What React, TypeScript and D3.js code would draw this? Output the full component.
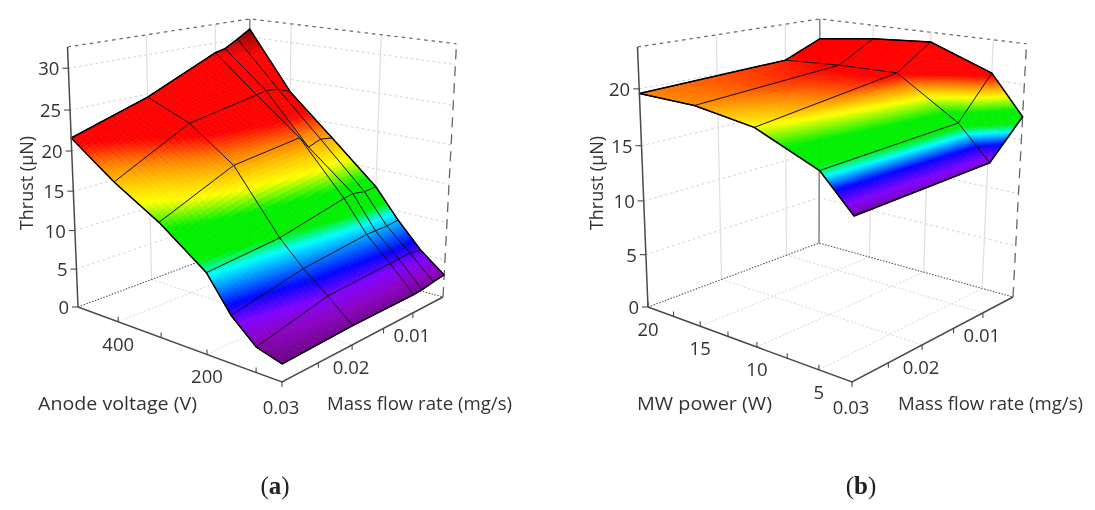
import React from "react";
import * as d3 from "d3";

// panel (a): thrust vs anode voltage and mass flow rate
const massFlowA = [0.03, 0.02, 0.01, 0.0085, 0.0065, 0.0045];
const voltageA = [500, 400, 300, 200, 150, 100, 50];
const thrustA = [
  [21.6, 17.5, 14.1, 9.8, 5.7, 3.0, 2.1],
  [24.6, 22.3, 18.2, 10.6, 7.6, 5.1, 2.4],
  [28.7, 23.9, 19.3, 12.6, 8.6, 5.6, 2.4],
  [29.0, 24.2, 17.7, 12.8, 8.6, 5.7, 2.5],
  [30.0, 24.0, 18.3, 12.5, 8.6, 5.8, 2.8],
  [31.1, 23.3, 18.0, 12.6, 8.8, 5.5, 3.0],
];
// panel (b): thrust vs MW power and mass flow rate
const massFlowB = [0.03, 0.01, 0.0045];
const powerB = [20, 15, 10, 5, 2.5];
const thrustB = [
  [19.6, 19.5, 18.7, 16.4, 13.5],
  [20.1, 20.4, 20.5, 16.9, 13.9],
  [21.6, 22.3, 22.7, 20.6, 17.1],
];

const massTicks = [0.03, 0.02, 0.01];
const massMinor = [0.025, 0.015];
const voltageTicks = [400, 200];
const voltageMinor = [300, 100];
const powerTicks = [20, 15, 10, 5];
const powerMinor = [17.5, 12.5, 7.5];
const thrustTicksA = [0, 5, 10, 15, 20, 25, 30];
const thrustTicksB = [0, 5, 10, 15, 20];

const colorStopsA: [number, string][] = [
  [2, "#6a0080"], [3.5, "#8a00c0"], [5, "#7f00ff"], [6.5, "#0000ff"], [8, "#0080ff"], [9.5, "#00ffff"],
  [10.8, "#00f000"], [13.5, "#00f000"], [15.7, "#ffff00"], [17.5, "#ffc000"], [19, "#ff8000"],
  [21, "#ff0000"], [28, "#ff0000"], [31.5, "#700000"],
];
const colorStopsB: [number, string][] = [
  [13.4, "#7000a0"], [14.2, "#8000ff"], [15.1, "#0000ff"], [16, "#00ffff"], [16.6, "#00f000"],
  [17.6, "#00f000"], [18.7, "#ffff00"], [19.6, "#ff8000"], [20.3, "#ff0000"],
];

// box corners on screen, panel (a) x; panel (b) is the same box moved right
const cornerL = [78, 307], cornerB = [249, 243], cornerR = [443, 297], cornerF = [282, 382];
const vanish = [235, 4200];
const topLeftY = 47;

const FONT = "'Open Sans', sans-serif";
const INK = "#333";

function homography(p00: number[], p10: number[], p11: number[], p01: number[]) {
  const dx1 = p10[0] - p11[0], dx2 = p01[0] - p11[0], sx = p00[0] - p10[0] + p11[0] - p01[0];
  const dy1 = p10[1] - p11[1], dy2 = p01[1] - p11[1], sy = p00[1] - p10[1] + p11[1] - p01[1];
  const den = dx1 * dy2 - dx2 * dy1;
  const g = (sx * dy2 - dx2 * sy) / den, h = (dx1 * sy - sx * dy1) / den;
  return {
    a: p10[0] - p00[0] + g * p10[0], b: p01[0] - p00[0] + h * p01[0], c: p00[0],
    d: p10[1] - p00[1] + g * p10[1], e: p01[1] - p00[1] + h * p01[1], f: p00[1], g, h,
  };
}
const H = homography(cornerL, cornerB, cornerR, cornerF);
const alpha = (topLeftY - cornerL[1]) / (vanish[1] - topLeftY);

// s, t, z all 0..1 inside the box
function project(s: number, t: number, z: number): [number, number] {
  const k = z * alpha;
  const w = H.g * s + H.h * t + 1 + k;
  return [
    (H.a * s + H.b * t + H.c + k * vanish[0]) / w,
    (H.d * s + H.e * t + H.f + k * vanish[1]) / w,
  ];
}

const line = d3.line<[number, number]>().x((d) => d[0]).y((d) => d[1]);
const seg = (a: [number, number], b: [number, number]) => line([a, b]) as string;

type PanelProps = {
  dx: number;
  massFlow: number[];
  xValues: number[];
  thrust: number[][];
  xDomain: [number, number];
  zMax: number;
  xTicks: number[];
  xMinor: number[];
  xGrid: number[];
  zTicks: number[];
  stops: [number, string][];
  steps: number;
  xTitle: string;
  xTitleX: number;
  xTitleLen: number;
  massTitleX: number;
  caption: string;
};

function Panel(p: PanelProps) {
  const sScale = d3.scaleLinear().domain([0.03, 0.0045]).range([0, 1]);
  const tScale = d3.scaleLinear().domain(p.xDomain).range([0, 1]);
  const zScale = d3.scaleLinear().domain([0, p.zMax]).range([0, 1]);
  const color = d3.scaleLinear<string>()
    .domain(p.stops.map((d) => d[0]))
    .range(p.stops.map((d) => d[1]))
    .interpolate(d3.interpolateRgb)
    .clamp(true);

  const node = (r: number, c: number): [number, number] =>
    project(sScale(p.massFlow[r]), tScale(p.xValues[c]), zScale(p.thrust[r][c]));

  // surface: every patch cut into small cells, far patches first
  const cells: { d: string; fill: string }[] = [];
  for (let r = p.massFlow.length - 2; r >= 0; r--) {
    for (let c = 0; c < p.xValues.length - 1; c++) {
      const at = (i: number, j: number) => {
        const a = i / p.steps, b = j / p.steps;
        const s = sScale(p.massFlow[r + 1]) * (1 - a) + sScale(p.massFlow[r]) * a;
        const t = tScale(p.xValues[c]) * (1 - b) + tScale(p.xValues[c + 1]) * b;
        const v = (p.thrust[r + 1][c] * (1 - b) + p.thrust[r + 1][c + 1] * b) * (1 - a)
          + (p.thrust[r][c] * (1 - b) + p.thrust[r][c + 1] * b) * a;
        return { xy: project(s, t, zScale(v)), v };
      };
      for (let i = 0; i < p.steps; i++) {
        for (let j = 0; j < p.steps; j++) {
          const q = [at(i, j), at(i, j + 1), at(i + 1, j + 1), at(i + 1, j)];
          cells.push({
            d: (line(q.map((e) => e.xy)) as string) + "Z",
            fill: color(d3.mean(q, (e) => e.v) as number),
          });
        }
      }
    }
  }

  const rows = p.massFlow.map((_, r) => p.xValues.map((_, c) => node(r, c)));
  const cols = p.xValues.map((_, c) => p.massFlow.map((_, r) => node(r, c)));
  const lastR = p.massFlow.length - 1, lastC = p.xValues.length - 1;
  const outline = [...rows[0], ...cols[lastC].slice(1), ...[...rows[lastR]].reverse().slice(1), ...[...cols[0]].reverse().slice(1)];

  const gridMass = massTicks.slice(1);
  const tickLen = 5;

  return (
    <g transform={`translate(${p.dx},0)`}>
      {/* walls */}
      <g fill="none">
        {p.zTicks.slice(1).map((z) => (
          <path key={z} stroke="#cfcfcf" strokeDasharray="2.5 3"
            d={line([project(0, 0, zScale(z)), project(1, 0, zScale(z)), project(1, 1, zScale(z))]) as string} />
        ))}
        {gridMass.map((m) => (
          <path key={m} d={seg(project(sScale(m), 0, 0), project(sScale(m), 0, 1))} stroke="#e0e0e0" strokeWidth={1.2} />
        ))}
        {p.xGrid.map((x) => (
          <path key={x} d={seg(project(1, tScale(x), 0), project(1, tScale(x), 1))} stroke="#e0e0e0" strokeWidth={1.2} />
        ))}
        {/* floor */}
        {gridMass.map((m) => (
          <path key={m} d={seg(project(sScale(m), 0, 0), project(sScale(m), 1, 0))} stroke="#d8d8d8" strokeDasharray="2 2" />
        ))}
        {p.xGrid.map((x) => (
          <path key={x} d={seg(project(0, tScale(x), 0), project(1, tScale(x), 0))} stroke="#d8d8d8" strokeDasharray="2 2" />
        ))}
        {/* box */}
        <path d={line([project(0, 0, 0), project(1, 0, 0), project(1, 1, 0)]) as string} stroke="#555" strokeDasharray="1.5 1.5" strokeWidth={1.1} />
        <path d={line([project(0, 0, 1), project(1, 0, 1), project(1, 1, 1)]) as string} stroke="#666" strokeDasharray="3.5 4" strokeWidth={1.2} />
        <path d={seg(project(1, 1, 0), project(1, 1, 1))} stroke="#666" strokeDasharray="10 7" strokeWidth={1.3} />
        <path d={seg(project(1, 0, 0), project(1, 0, 1))} stroke="#8a8a8a" strokeWidth={1.6} />
      </g>

      {/* surface */}
      <g>
        {cells.map((d, i) => (
          <path key={i} d={d.d} fill={d.fill} stroke={d.fill} strokeWidth={0.6} />
        ))}
      </g>
      <g fill="none" stroke="#111" strokeWidth={1} strokeLinejoin="round">
        {rows.map((d, i) => <path key={i} d={line(d) as string} />)}
        {cols.map((d, i) => <path key={i} d={line(d) as string} />)}
        <path d={(line(outline) as string) + "Z"} stroke="#000" strokeWidth={1.5} />
      </g>

      {/* axes */}
      <g fill="none" stroke="#4a4a4a" strokeWidth={1.5}>
        <path d={seg(project(0, 0, 0), project(0, 0, 1))} />
        <path d={line([project(0, 0, 0), project(0, 1, 0), project(1, 1, 0)]) as string} />
        {p.zTicks.map((z) => {
          const q = project(0, 0, zScale(z));
          return <path key={z} d={seg([q[0] - 6, q[1]], [q[0], q[1]])} strokeWidth={1.1} />;
        })}
        {[...p.xTicks, ...p.xMinor].map((x) => {
          const q = project(0, tScale(x), 0);
          return <path key={x} d={seg(q, [q[0], q[1] - tickLen])} strokeWidth={1.1} />;
        })}
        {[...massTicks, ...massMinor].map((m) => {
          const q = project(sScale(m), 1, 0);
          return <path key={m} d={seg(q, [q[0], q[1] + tickLen])} strokeWidth={1.1} />;
        })}
      </g>

      {/* labels */}
      <g fontFamily={FONT} fontSize={18.5} fill={INK}>
        {p.zTicks.map((z) => {
          const q = project(0, 0, zScale(z));
          return <text key={z} x={q[0] - 9} y={q[1] + 7} textAnchor="end">{z}</text>;
        })}
        {p.xTicks.map((x) => {
          const q = project(0, tScale(x), 0);
          return <text key={x} x={q[0]} y={q[1] + 29} textAnchor="middle">{x}</text>;
        })}
        {massTicks.map((m) => {
          const q = project(sScale(m), 1, 0);
          return <text key={m} x={q[0] - 1} y={q[1] + (m === 0.03 ? 32 : 29)} textAnchor="middle">{m.toFixed(2)}</text>;
        })}
        <text x={p.xTitleX} y={410} fontSize={18} textLength={p.xTitleLen} lengthAdjust="spacingAndGlyphs">{p.xTitle}</text>
        <text x={p.massTitleX} y={410} fontSize={18} textLength={185} lengthAdjust="spacingAndGlyphs">Mass flow rate (mg/s)</text>
        <text transform="translate(33,183) rotate(-90)" textAnchor="middle" fontSize={18}>Thrust (µN)</text>
      </g>
      <text x={p.dx === 0 ? 275 : 291} y={494} textAnchor="middle" fontFamily="'Liberation Serif', serif" fontSize={25} fill="#222">
        (<tspan fontWeight="bold">{p.caption}</tspan>)
      </text>
    </g>
  );
}

export default function App() {
  return (
    <svg width={1095} height={510} style={{ position: "absolute", left: 0, top: 0, background: "#fff", filter: "blur(0.4px)" }}>
      <Panel
        dx={0}
        massFlow={massFlowA}
        xValues={voltageA}
        thrust={thrustA}
        xDomain={[500, 50]}
        zMax={32.5}
        xTicks={voltageTicks}
        xMinor={voltageMinor}
        xGrid={voltageTicks}
        zTicks={thrustTicksA}
        stops={colorStopsA}
        steps={16}
        xTitle="Anode voltage (V)"
        xTitleX={38}
        xTitleLen={159}
        massTitleX={327}
        caption="a"
      />
      <Panel
        dx={570}
        massFlow={massFlowB}
        xValues={powerB}
        thrust={thrustB}
        xDomain={[20, 2.5]}
        zMax={23.6}
        xTicks={powerTicks}
        xMinor={powerMinor}
        xGrid={powerTicks.slice(1)}
        zTicks={thrustTicksB}
        stops={colorStopsB}
        steps={28}
        xTitle="MW power (W)"
        xTitleX={67}
        xTitleLen={135}
        massTitleX={328}
        caption="b"
      />
    </svg>
  );
}
